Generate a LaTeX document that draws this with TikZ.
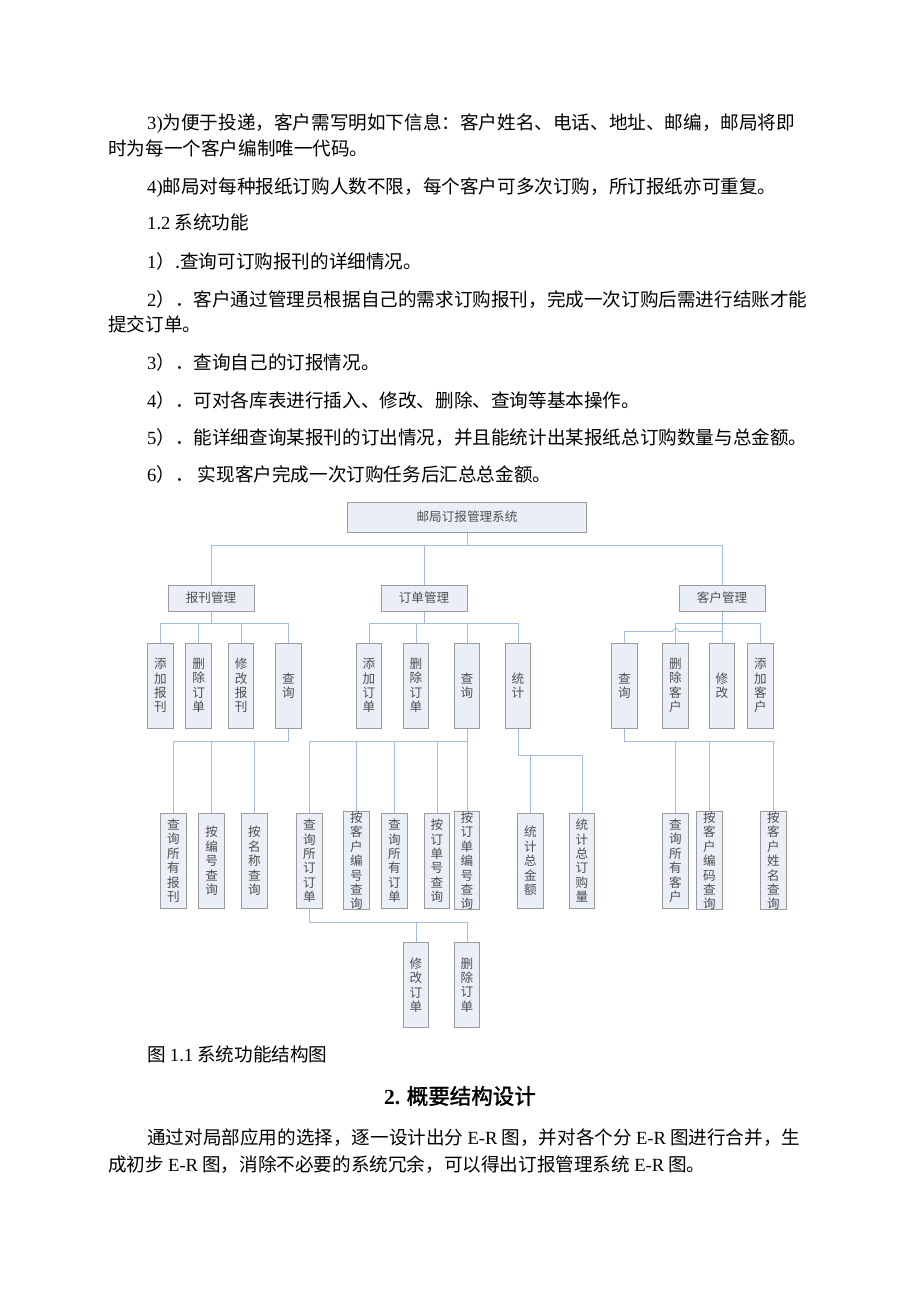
\documentclass[tikz,border=0pt]{standalone}
\usepackage{fontspec}
\setmainfont{Liberation Serif}
\newfontfamily\cjk{Noto Sans CJK SC}
\newfontfamily\cjkbf[FakeBold=1.6]{Noto Sans CJK SC}
\newcommand\lt[1]{{\rmfamily #1}}
\usetikzlibrary{calc}
\definecolor{linkblue}{RGB}{165,188,222}
\definecolor{boxfill}{RGB}{233,238,247}
\definecolor{boxline}{RGB}{155,155,155}
\definecolor{boxtext}{RGB}{80,80,80}
\tikzstyle{func}=[rectangle,draw=boxline,fill=boxfill,text=boxtext,line width=1pt,inner sep=0pt,font=\cjk\fontsize{12.6}{14.4}\selectfont]
\tikzstyle{module}=[func,minimum width=86pt,minimum height=26pt]
\tikzstyle{item}=[func,minimum width=25.5pt,minimum height=85pt,align=center]
\tikzstyle{leaf}=[item,minimum height=95pt]
\tikzstyle{link}=[draw=linkblue,line width=0.8pt]
\tikzstyle{para}=[anchor=west,inner sep=0pt,font=\cjk\fontsize{18.6}{22}\selectfont,text height=16.4pt,text depth=2.2pt]

\begin{document}
\begin{tikzpicture}[x=1pt,y=-1pt]
                    \useasboundingbox [fill=white] (0,0) rectangle (920,1302);

                    \node (t1) at (147,122.5) [para] {\lt{3)}为便于投递，客户需写明如下信息：客户姓名、电话、地址、邮编，邮局将即};
                    \node (t2) at (108,148.5) [para] {时为每一个客户编制唯一代码。};
                    \node (t3) at (147,186) [para] {\lt{4)}邮局对每种报纸订购人数不限，每个客户可多次订购，所订报纸亦可重复。};
                    \node (t4) at (147,222.5) [para] {\lt{1.2} 系统功能};
                    \node (t5) at (147,261) [para] {\lt{1}）.查询可订购报刊的详细情况。};
                    \node (t6) at (147,299) [para] {\lt{2}）．客户通过管理员根据自己的需求订购报刊，完成一次订购后需进行结账才能};
                    \node (t7) at (108,324) [para] {提交订单。};
                    \node (t8) at (147,362) [para] {\lt{3}）．查询自己的订报情况。};
                    \node (t9) at (147,400) [para] {\lt{4}）．可对各库表进行插入、修改、删除、查询等基本操作。};
                    \node (t10) at (147,437) [para] {\lt{5}）．能详细查询某报刊的订出情况，并且能统计出某报纸总订购数量与总金额。};
                    \node (t11) at (147,474) [para] {\lt{6}）． 实现客户完成一次订购任务后汇总总金额。};

                    \node (sys) at (467,517) [func,minimum width=239pt,minimum height=30pt] {邮局订报管理系统};
                    \node (bkgl) at (211,598) [module] {报刊管理};
                    \node (ddgl) at (424,598) [module] {订单管理};
                    \node (khgl) at (722,598) [module] {客户管理};

                    \node (bk1) at (160.3,685.5) [item] {添\\加\\报\\刊};
                    \node (bk2) at (198.7,685.5) [item] {删\\除\\订\\单};
                    \node (bk3) at (241.2,685.5) [item] {修\\改\\报\\刊};
                    \node (bk4) at (288.3,685.5) [item] {查\\询};
                    \node (dd1) at (369,685.5) [item] {添\\加\\订\\单};
                    \node (dd2) at (416,685.5) [item] {删\\除\\订\\单};
                    \node (dd3) at (467,685.5) [item] {查\\询};
                    \node (dd4) at (518,685.5) [item] {统\\计};
                    \node (kh1) at (624.5,685.5) [item] {查\\询};
                    \node (kh2) at (675.5,685.5) [item] {删\\除\\客\\户};
                    \node (kh3) at (722,685.5) [item] {修\\改};
                    \node (kh4) at (760.5,685.5) [item] {添\\加\\客\\户};

                    \node (bkc1) at (173.3,860.8) [leaf] {查\\询\\所\\有\\报\\刊};
                    \node (bkc2) at (211.7,860.8) [leaf] {按\\编\\号\\查\\询};
                    \node (bkc3) at (254.5,860.8) [leaf] {按\\名\\称\\查\\询};
                    \node (ddc1) at (309.5,860.8) [leaf] {查\\询\\所\\订\\订\\单};
                    \node (ddc2) at (356.5,860.8) [leaf] {按\\客\\户\\编\\号\\查\\询};
                    \node (ddc3) at (394.5,860.8) [leaf] {查\\询\\所\\有\\订\\单};
                    \node (ddc4) at (437,860.8) [leaf] {按\\订\\单\\号\\查\\询};
                    \node (ddc5) at (467,860.8) [leaf] {按\\订\\单\\编\\号\\查\\询};
                    \node (tj1) at (530.5,860.8) [leaf] {统\\计\\总\\金\\额};
                    \node (tj2) at (582,860.8) [leaf] {统\\计\\总\\订\\购\\量};
                    \node (khc1) at (675.5,860.8) [leaf] {查\\询\\所\\有\\客\\户};
                    \node (khc2) at (709.5,860.8) [leaf] {按\\客\\户\\编\\码\\查\\询};
                    \node (khc3) at (773.5,860.8) [leaf] {按\\客\\户\\姓\\名\\查\\询};

                    \node (xg) at (416,985) [item] {修\\改\\订\\单};
                    \node (sc) at (467,985) [item] {删\\除\\订\\单};

                    \draw [link] (sys.south) -- ++(0,13) -| (bkgl.north);
                    \draw [link] (sys.south) ++(0,13) -| (ddgl.north);
                    \draw [link] (sys.south) ++(0,13) -| (khgl.north);

                    \draw [link] (bkgl.south) -- ++(0,12) -| (bk1.north);
                    \draw [link] (bkgl.south) ++(0,12) -| (bk2.north);
                    \draw [link] (bkgl.south) ++(0,12) -| (bk3.north);
                    \draw [link] (bkgl.south) ++(0,12) -| (bk4.north);

                    \draw [link] (ddgl.south) -- ++(0,12) -| (dd1.north);
                    \draw [link] (ddgl.south) ++(0,12) -| (dd2.north);
                    \draw [link] (ddgl.south) ++(0,12) -| (dd3.north);
                    \draw [link] (ddgl.south) ++(0,12) -| (dd4.north);

                    \draw [link] (khgl.south) -- (kh3.north);
                    \draw [link] (khgl.south) ++(0,12) -| (kh2.north);
                    \draw [link] (khgl.south) ++(0,12) -| (kh4.north);
                    \draw [link] (khgl.south) ++(0,20) -- ($(kh2.north |- khgl.south)+(3,20)$)
                          arc [start angle=0,end angle=-180,radius=3] -| (kh1.north);

                    \draw [link] (bk4.south) -- ++(0,13) -| (bkc1.north);
                    \draw [link] (bk4.south) ++(0,13) -| (bkc2.north);
                    \draw [link] (bk4.south) ++(0,13) -| (bkc3.north);

                    \draw [link] (dd3.south) -- (ddc5.north);
                    \draw [link] (dd3.south) ++(0,13) -| (ddc1.north);
                    \draw [link] (dd3.south) ++(0,13) -| (ddc2.north);
                    \draw [link] (dd3.south) ++(0,13) -| (ddc3.north);
                    \draw [link] (dd3.south) ++(0,13) -| (ddc4.north);

                    \draw [link] (dd4.south) -- ++(0,27) -| (tj1.north);
                    \draw [link] (dd4.south) ++(0,27) -| (tj2.north);

                    \draw [link] (kh1.south) -- ++(0,13) -| (khc1.north);
                    \draw [link] (kh1.south) ++(0,13) -| (khc2.north);
                    \draw [link] (kh1.south) ++(0,13) -| (khc3.north);

                    \draw [link] (ddc1.south) -- ++(0,13.5) -| (xg.north);
                    \draw [link] (ddc1.south) ++(0,13.5) -| (sc.north);

                    \node (cap) at (147,1054) [para] {图 \lt{1.1} 系统功能结构图};
                    \node (head) at (460,1097) [para,anchor=center,font=\cjkbf\fontsize{21.5}{24}\selectfont] {{\rmfamily\bfseries 2.} 概要结构设计};
                    \node (p1) at (147,1137) [para] {通过对局部应用的选择，逐一设计出分 \lt{E-R} 图，并对各个分 \lt{E-R} 图进行合并，生};
                    \node (p2) at (108,1164) [para] {成初步 \lt{E-R} 图，消除不必要的系统冗余，可以得出订报管理系统 \lt{E-R} 图。};
                \end{tikzpicture}
\end{document}
